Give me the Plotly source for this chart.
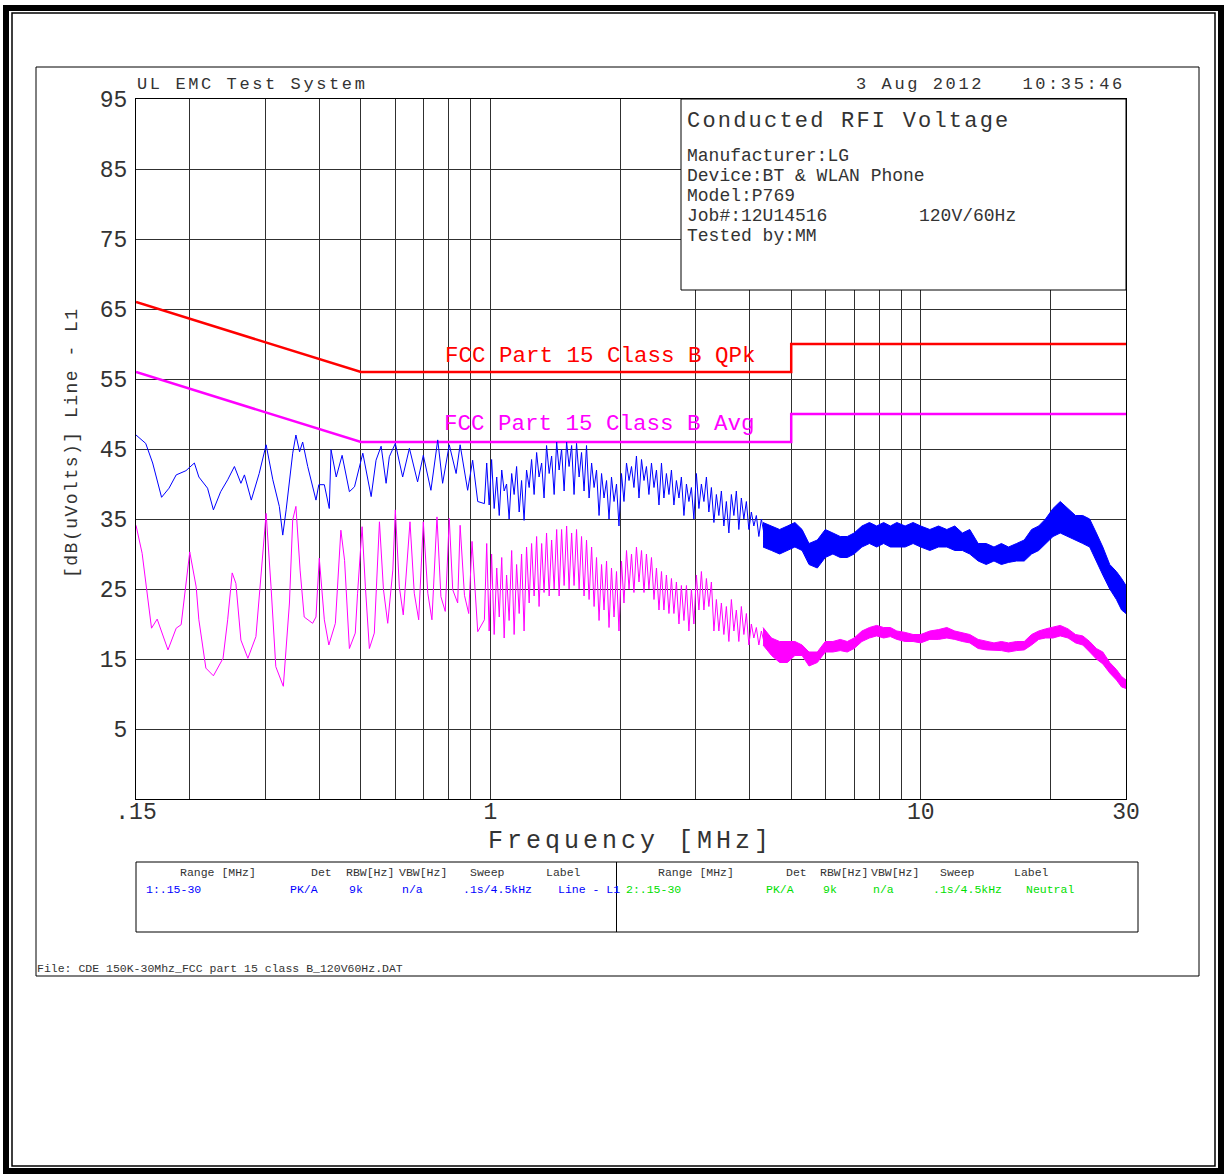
import numpy as np
import plotly.graph_objects as go

FONT = "Liberation Mono"
INK = "#333333"
GRID = "#303030"
BLUE = "#0000ff"
MAGENTA = "#ff00ff"
RED = "#ff0000"
GREEN = "#00e000"

# ---- limit lines (MHz, dBuV) ----
LIMIT_FREQ = [0.15, 0.5, 5, 5, 30]
QPK_LIMIT = [66, 56, 56, 60, 60]
AVG_LIMIT = [56, 46, 46, 50, 50]

# ---- peak trace (blue), 0.15 - 1 MHz ----
FREQ_PK_LO = [0.150, 0.158, 0.164, 0.172, 0.179, 0.186, 0.196, 0.205, 0.210, 0.220,
              0.227, 0.236, 0.245, 0.254, 0.263, 0.268, 0.278, 0.290, 0.301, 0.312,
              0.323, 0.329, 0.335, 0.347, 0.353, 0.360, 0.366, 0.376, 0.393, 0.399,
              0.411, 0.422, 0.426, 0.438, 0.452, 0.470, 0.483, 0.505, 0.528, 0.542,
              0.557, 0.572, 0.582, 0.601, 0.625, 0.648, 0.677, 0.698, 0.727, 0.754,
              0.774, 0.802, 0.832, 0.850, 0.885, 0.909, 0.934, 0.968]
PK_LO = [47.0, 45.8, 43.0, 38.1, 39.4, 41.3, 41.9, 43.0, 41.0, 39.4,
         36.3, 38.9, 40.6, 42.5, 40.1, 41.3, 37.7, 41.5, 45.6, 40.6,
         36.8, 32.7, 36.3, 44.4, 47.0, 44.6, 46.0, 42.5, 37.7, 39.9,
         39.9, 36.5, 44.9, 41.0, 44.1, 38.9, 39.6, 44.4, 38.2, 43.4,
         45.4, 40.1, 43.9, 45.8, 41.0, 45.1, 40.3, 44.1, 39.1, 46.3,
         40.1, 45.6, 41.5, 45.6, 39.1, 43.4, 37.5, 37.2]

# ---- average trace (magenta), 0.15 - 1 MHz ----
FREQ_AV_LO = [0.150, 0.155, 0.163, 0.168, 0.178, 0.186, 0.191, 0.200, 0.207, 0.210,
              0.218, 0.227, 0.239, 0.245, 0.251, 0.256, 0.263, 0.273, 0.285, 0.294,
              0.301, 0.309, 0.317, 0.330, 0.341, 0.347, 0.353, 0.361, 0.369, 0.386,
              0.393, 0.400, 0.411, 0.421, 0.436, 0.449, 0.458, 0.470, 0.485, 0.491,
              0.503, 0.512, 0.523, 0.537, 0.552, 0.564, 0.577, 0.593, 0.601, 0.614,
              0.627, 0.650, 0.665, 0.681, 0.698, 0.715, 0.731, 0.751, 0.767, 0.785,
              0.802, 0.817, 0.839, 0.850, 0.870, 0.890, 0.906, 0.934, 0.968]
AV_LO = [34.1, 30.1, 19.4, 20.7, 16.3, 19.4, 19.9, 30.3, 25.3, 20.6,
         13.7, 12.6, 15.1, 20.6, 27.3, 25.8, 17.7, 15.1, 18.2, 27.7,
         35.8, 25.3, 13.9, 11.1, 23.0, 34.9, 36.8, 27.7, 21.0, 20.1,
         21.0, 29.4, 20.6, 17.0, 20.1, 33.4, 29.1, 16.5, 18.7, 24.4,
         33.9, 25.3, 16.5, 18.7, 34.6, 24.9, 20.1, 27.7, 36.3, 25.3,
         21.3, 34.6, 24.4, 20.6, 34.6, 24.4, 20.6, 35.3, 23.9, 21.8,
         35.1, 24.9, 23.0, 34.1, 24.1, 21.5, 31.8, 18.9, 20.6]

# ---- both traces, 1 - 4.3 MHz (sweep points) ----
FREQ_HI = [0.98, 0.993, 1.006, 1.02, 1.034, 1.048, 1.062, 1.076,
           1.09, 1.105, 1.12, 1.135, 1.15, 1.166, 1.181, 1.197,
           1.213, 1.23, 1.246, 1.263, 1.28, 1.297, 1.315, 1.332,
           1.35, 1.369, 1.387, 1.406, 1.425, 1.444, 1.463, 1.483,
           1.503, 1.523, 1.544, 1.564, 1.585, 1.607, 1.628, 1.65,
           1.672, 1.695, 1.718, 1.741, 1.764, 1.788, 1.812, 1.836,
           1.861, 1.886, 1.911, 1.937, 1.963, 1.989, 2.016, 2.043,
           2.071, 2.099, 2.127, 2.155, 2.184, 2.214, 2.244, 2.274,
           2.304, 2.335, 2.367, 2.399, 2.431, 2.464, 2.497, 2.53,
           2.564, 2.599, 2.634, 2.669, 2.705, 2.742, 2.778, 2.816,
           2.854, 2.892, 2.931, 2.97, 3.01, 3.051, 3.092, 3.134,
           3.176, 3.218, 3.262, 3.306, 3.35, 3.395, 3.441, 3.487,
           3.534, 3.582, 3.63, 3.679, 3.728, 3.778, 3.829, 3.881,
           3.933, 3.986, 4.04, 4.094, 4.149, 4.205, 4.262, 4.32]
PK_HI = [43.0, 37.0, 43.5, 36.5, 41.0, 35.5, 42.0, 39.0,
         40.0, 35.0, 41.5, 38.5, 42.5, 36.0, 40.5, 34.8,
         42.0, 39.5, 43.5, 38.5, 44.5, 41.0, 43.0, 38.0,
         45.5, 41.5, 44.0, 38.5, 46.0, 42.0, 45.0, 39.0,
         46.0, 42.5, 45.5, 38.5, 45.8, 41.0, 44.5, 39.0,
         45.5, 38.0, 43.0, 39.5, 42.0, 35.5, 41.5, 38.0,
         40.5, 35.0, 41.0, 37.5, 40.0, 34.0, 41.5, 37.5,
         43.0, 40.5, 42.5, 39.5, 44.0, 38.0, 43.5, 40.5,
         42.5, 38.5, 43.0, 39.5, 42.0, 37.0, 43.0, 38.0,
         41.5, 38.5, 42.0, 37.0, 40.5, 38.0, 41.0, 35.5,
         40.0, 37.5, 39.5, 35.0, 41.5, 36.5, 40.0, 37.5,
         41.0, 36.0, 39.5, 34.5, 38.5, 35.5, 39.0, 34.0,
         37.5, 33.0, 38.5, 35.5, 39.0, 33.5, 38.0, 35.0,
         37.5, 33.5, 36.0, 34.0, 35.5, 32.5, 35.0, 33.0]
AV_HI = [31.5, 19.0, 30.0, 18.5, 28.0, 21.0, 29.5, 18.0,
         27.0, 20.5, 30.5, 18.5, 28.5, 21.5, 30.0, 19.0,
         31.0, 23.0, 31.5, 24.0, 32.5, 22.5, 31.5, 24.5,
         33.0, 24.0, 32.0, 25.0, 33.5, 24.0, 33.5, 25.5,
         34.0, 25.0, 33.0, 25.5, 33.5, 25.0, 32.5, 24.0,
         32.0, 23.5, 31.0, 22.5, 29.5, 20.5, 28.5, 22.0,
         29.0, 19.5, 28.0, 21.0, 27.5, 19.0, 29.0, 23.0,
         30.5, 25.0, 30.0, 24.5, 31.0, 26.0, 30.5, 24.5,
         30.0, 25.0, 29.5, 23.5, 28.0, 22.0, 27.5, 22.0,
         27.0, 21.5, 26.5, 21.5, 26.0, 20.0, 25.5, 20.5,
         25.5, 19.0, 25.0, 20.0, 27.0, 22.0, 27.5, 22.0,
         26.5, 22.5, 26.0, 19.0, 23.5, 19.0, 23.0, 18.5,
         22.5, 17.5, 23.5, 19.0, 22.0, 17.5, 22.5, 18.5,
         21.5, 17.0, 20.0, 18.0, 19.5, 17.0, 19.0, 17.5]

# ---- 4.3 - 30 MHz: noise band edges ----
BAND_FREQ = [4.3, 4.5, 4.7, 4.9, 5.1, 5.3, 5.5, 5.75, 6.0, 6.25,
             6.5, 6.75, 7.0, 7.3, 7.6, 7.9, 8.2, 8.5, 8.8, 9.2,
             9.6, 10.0, 10.5, 11.0, 11.5, 12.0, 12.5, 13.0, 13.6, 14.2,
             14.8, 15.4, 16.0, 16.7, 17.4, 18.1, 18.8, 19.5, 20.3, 21.1,
             22.0, 22.9, 23.8, 24.7, 25.6, 26.5, 27.5, 28.5, 29.3, 30.0]
PK_TOP = [34.5, 34.0, 33.5, 34.0, 34.5, 33.5, 31.5, 32.0, 33.5, 33.0,
          32.5, 32.5, 33.0, 34.0, 34.5, 34.0, 34.5, 34.0, 34.5, 34.0,
          34.5, 34.0, 33.5, 34.0, 33.5, 34.0, 33.0, 33.5, 31.5, 31.5,
          31.0, 31.5, 31.0, 31.5, 32.0, 33.5, 34.0, 35.0, 36.5, 37.5,
          36.5, 35.5, 35.5, 35.0, 33.0, 31.0, 28.5, 27.5, 26.5, 25.5]
PK_BOT = [31.0, 30.5, 30.0, 30.5, 31.0, 30.5, 28.5, 28.0, 29.5, 30.0,
          29.5, 29.5, 30.0, 31.0, 31.5, 31.0, 31.5, 31.0, 31.0, 31.0,
          31.5, 31.0, 30.5, 31.0, 31.0, 30.5, 30.5, 30.0, 29.0, 28.5,
          29.0, 28.5, 28.8, 29.0, 29.0, 30.0, 30.5, 31.5, 32.5, 33.0,
          32.5, 32.0, 31.5, 31.0, 29.0, 27.0, 25.0, 23.5, 22.0, 21.5]
AV_TOP = [19.5, 18.0, 17.5, 17.5, 17.5, 17.0, 16.0, 16.0, 17.5, 17.5,
          17.8, 17.5, 18.0, 19.0, 19.5, 19.8, 19.5, 19.5, 19.0, 18.8,
          18.5, 18.5, 19.0, 19.2, 19.5, 19.0, 18.8, 18.5, 17.8, 17.5,
          17.3, 17.5, 17.3, 17.5, 17.5, 18.5, 19.0, 19.3, 19.5, 19.8,
          19.3, 18.5, 18.3, 17.5, 16.5, 16.0, 14.5, 13.5, 12.5, 12.0]
AV_BOT = [17.0, 15.5, 14.5, 14.5, 15.5, 15.5, 14.0, 14.5, 16.0, 16.0,
          16.2, 16.0, 16.5, 17.5, 18.0, 18.3, 18.0, 18.2, 17.8, 17.5,
          17.5, 17.3, 17.8, 17.8, 18.0, 17.8, 17.5, 17.3, 16.5, 16.3,
          16.2, 16.2, 16.0, 16.2, 16.3, 17.0, 17.8, 18.0, 18.0, 18.3,
          18.0, 17.3, 17.0, 16.0, 15.0, 14.3, 13.0, 12.0, 11.0, 10.8]

# ---- axes ----
X_GRID = [0.15, 0.2, 0.3, 0.4, 0.5, 0.6, 0.7, 0.8, 0.9, 1, 2, 3, 4, 5, 6, 7, 8, 9, 10, 20, 30]
X_LABELS = ['.15', '', '', '', '', '', '', '', '', '1', '', '', '', '', '', '', '', '', '10', '', '30']
Y_TICKS = [5, 15, 25, 35, 45, 55, 65, 75, 85, 95]

# ---- text ----
INFO_LINES = ["Manufacturer:LG", "Device:BT & WLAN Phone", "Model:P769", "Job#:12U14516", "Tested by:MM"]
TABLE_HEAD = ["Range [MHz]", "Det", "RBW[Hz]", "VBW[Hz]", "Sweep", "Label"]
ROW_1 = ["1:.15-30", "PK/A", "9k", "n/a", ".1s/4.5kHz", "Line - L1"]
ROW_2 = ["2:.15-30", "PK/A", "9k", "n/a", ".1s/4.5kHz", "Neutral"]


def px_x(x):
    return (x - 136) / 990


def px_y(y):
    return (799 - y) / 700


def spaced(text, gap):
    return f'<span style="letter-spacing:{gap}px">{text}</span>'


fig = go.Figure()

# limits
fig.add_trace(go.Scatter(x=LIMIT_FREQ, y=QPK_LIMIT, mode='lines', line=dict(color=RED, width=2.5)))
fig.add_trace(go.Scatter(x=LIMIT_FREQ, y=AVG_LIMIT, mode='lines', line=dict(color=MAGENTA, width=2.5)))

# measured traces
fig.add_trace(go.Scatter(x=FREQ_PK_LO + FREQ_HI, y=PK_LO + PK_HI, mode='lines',
                         line=dict(color=BLUE, width=1)))
fig.add_trace(go.Scatter(x=BAND_FREQ + BAND_FREQ[::-1], y=PK_TOP + PK_BOT[::-1], mode='lines',
                         fill='toself', fillcolor=BLUE, line=dict(color=BLUE, width=1)))
fig.add_trace(go.Scatter(x=FREQ_AV_LO + FREQ_HI, y=AV_LO + AV_HI, mode='lines',
                         line=dict(color=MAGENTA, width=1)))
fig.add_trace(go.Scatter(x=BAND_FREQ + BAND_FREQ[::-1], y=AV_TOP + AV_BOT[::-1], mode='lines',
                         fill='toself', fillcolor=MAGENTA, line=dict(color=MAGENTA, width=1)))


def note(text, x, y, size, color=INK, xanchor='left', yanchor='middle', angle=0):
    fig.add_annotation(text=text, x=px_x(x), y=px_y(y), xref='paper', yref='paper',
                       showarrow=False, xanchor=xanchor, yanchor=yanchor, textangle=angle,
                       borderpad=0, font=dict(family=FONT, size=size, color=color))


def box(x0, y0, x1, y1, width=1, fill=None, layer='above'):
    fig.add_shape(type='rect', xref='paper', yref='paper',
                  x0=px_x(x0), x1=px_x(x1), y0=px_y(y0), y1=px_y(y1),
                  line=dict(color='black', width=width),
                  fillcolor=fill if fill else 'rgba(0,0,0,0)', layer=layer)


# page frames
box(6, 8, 1221, 1171, width=6)
box(12, 13, 1215, 1166, width=1.5)
box(36, 67, 1199, 976, width=1)

# info box
box(681, 99, 1126, 290, width=1, fill='white')
note(spaced("Conducted RFI Voltage", 2.2), 686, 121, 22)
for i, line in enumerate(INFO_LINES):
    note(line, 686, 156 + i * 20, 18)
note("120V/60Hz", 918, 216, 18)

# header
note(spaced("UL EMC Test System", 2.6), 136, 84, 17)
note(spaced("3 Aug 2012   10:35:46", 2.6), 1126, 84, 17, xanchor='right')

# limit labels
note("FCC Part 15 Class B QPk", 600, 356, 22.5, color=RED, xanchor='center')
note("FCC Part 15 Class B Avg", 599, 424, 22.5, color=MAGENTA, xanchor='center')

# axis titles
note(spaced("Frequency [MHz]", 4), 630, 841, 25, xanchor='center')
note(spaced("[dB(uVolts)] Line - L1", 1.5), 72, 443, 18, xanchor='center', angle=-90)

# settings table
box(136, 862, 1138, 932, width=1)
fig.add_shape(type='line', xref='paper', yref='paper', x0=px_x(616.5), x1=px_x(616.5),
              y0=px_y(862), y1=px_y(932), line=dict(color='black', width=1))
head_l = [218, 321.7, 370, 423, 487.5, 563]
head_r = [696, 796, 844, 895, 957.5, 1031]
data_l = [145, 289, 348, 400.7, 461.7, 557]
data_r = [625, 765, 821.7, 871.7, 931.7, 1025]
for i, h in enumerate(TABLE_HEAD):
    note(h, head_l[i], 872, 11.5, xanchor='center')
    note(h, head_r[i], 872, 11.5, xanchor='center')
    note(ROW_1[i], data_l[i], 889, 11.5, color=BLUE)
    note(ROW_2[i], data_r[i], 889, 11.5, color=GREEN)

note("File: CDE 150K-30Mhz_FCC part 15 class B_120V60Hz.DAT", 36, 968, 11.5)

fig.update_layout(
    width=1227, height=1175,
    margin=dict(l=136, r=101, t=99, b=376),
    paper_bgcolor='white', plot_bgcolor='white',
    showlegend=False,
    font=dict(family=FONT, color=INK),
    xaxis=dict(type='log', range=[np.log10(0.15), np.log10(30)],
               tickmode='array', tickvals=X_GRID, ticktext=X_LABELS,
               showgrid=True, gridcolor=GRID, gridwidth=1, zeroline=False,
               showline=True, mirror=True, linecolor='black', linewidth=1,
               ticks='', ticklen=0, ticklabelstandoff=-9, tickfont=dict(size=23, color=INK)),
    yaxis=dict(range=[-5, 95], tickmode='array', tickvals=Y_TICKS,
               showgrid=True, gridcolor=GRID, gridwidth=1, zeroline=False,
               showline=True, mirror=True, linecolor='black', linewidth=1,
               ticks='', ticklen=0, ticklabelstandoff=3, tickfont=dict(size=23, color=INK)),
)

fig.write_html("out.html", config={'displayModeBar': False},
               post_script="document.body.style.margin='0';document.body.style.overflow='hidden';")
